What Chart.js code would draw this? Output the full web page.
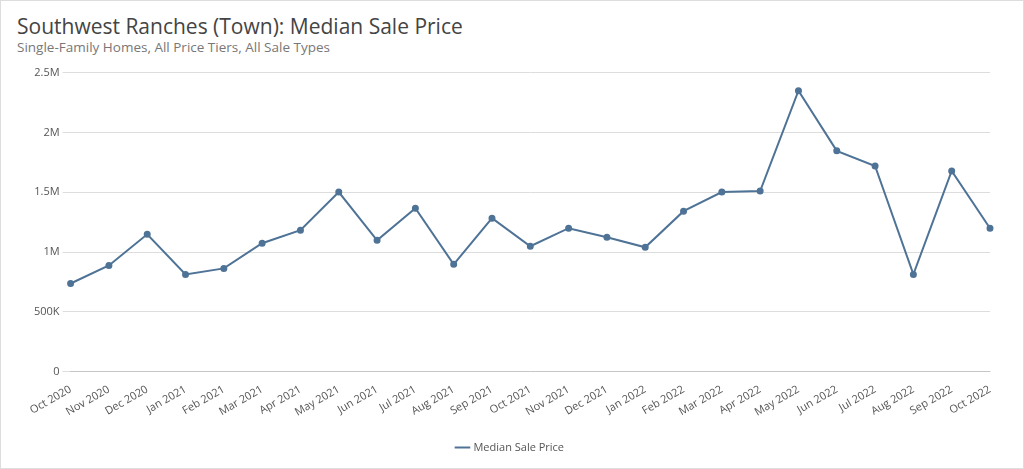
<!DOCTYPE html>
<html><head><meta charset="utf-8">
<script src="https://cdn.jsdelivr.net/npm/chart.js@4/dist/chart.umd.min.js"></script>
<style>
html,body{margin:0;padding:0;background:#fff;}
#wrap{position:relative;width:1022px;height:467px;border:1px solid #ddd;font-family:"Open Sans",sans-serif;}
#t{position:absolute;left:16px;top:11px;font-size:21px;color:#444;}
#s{position:absolute;left:16px;top:37px;font-size:13.5px;color:#777;}
#c{position:absolute;left:0;top:62px;width:1010px;height:400px;}
</style></head><body>
<div id="wrap">
<div id="t">Southwest Ranches (Town): Median Sale Price</div>
<div id="s">Single-Family Homes, All Price Tiers, All Sale Types</div>
<div id="c"><canvas id="myChart"></canvas></div>
</div>
<script>
const months = ['Oct 2020','Nov 2020','Dec 2020','Jan 2021','Feb 2021','Mar 2021','Apr 2021','May 2021','Jun 2021','Jul 2021','Aug 2021','Sep 2021','Oct 2021','Nov 2021','Dec 2021','Jan 2022','Feb 2022','Mar 2022','Apr 2022','May 2022','Jun 2022','Jul 2022','Aug 2022','Sep 2022','Oct 2022'];
const medianPrice = [738000,889000,1149000,814000,864000,1074000,1183000,1502000,1099000,1367000,898000,1284000,1049000,1200000,1124000,1040000,1342000,1502000,1510000,2349000,1846000,1720000,814000,1678000,1200000];
const tickLabels = {0:'0',500000:'500K',1000000:'1M',1500000:'1.5M',2000000:'2M',2500000:'2.5M'};

const ctx = document.getElementById('myChart');
new Chart(ctx, {
    type: 'line',
    data: {
        labels: months,
        datasets: [{
            label: 'Median Sale Price',
            data: medianPrice,
            borderColor: '#4e7396',
            backgroundColor: '#4e7396',
            borderWidth: 2,
            pointRadius: 2.5,
            tension: 0
        }]
    },
    options: {
        responsive: true,
        maintainAspectRatio: false,
        animation: false,
        layout: {padding: {left: 30, right: 21, top: 8}},
        plugins: {
            legend: {
                position: 'bottom',
                labels: {usePointStyle: true, pointStyle: 'line', color: '#555', font: {size: 11, family: 'Open Sans'}, padding: 20}
            }
        },
        scales: {
            x: {
                grid: {display: false},
                ticks: {color: '#555', font: {size: 11, family: 'Open Sans'}, maxRotation: 30, minRotation: 30, autoSkip: false}
            },
            y: {
                min: 0, max: 2500000,
                border: {display: false},
                grid: {color: '#ddd'},
                ticks: {stepSize: 500000, color: '#555', font: {size: 11, family: 'Open Sans'}, callback: v => tickLabels[v]}
            }
        }
    }
});
</script>
</body></html>
